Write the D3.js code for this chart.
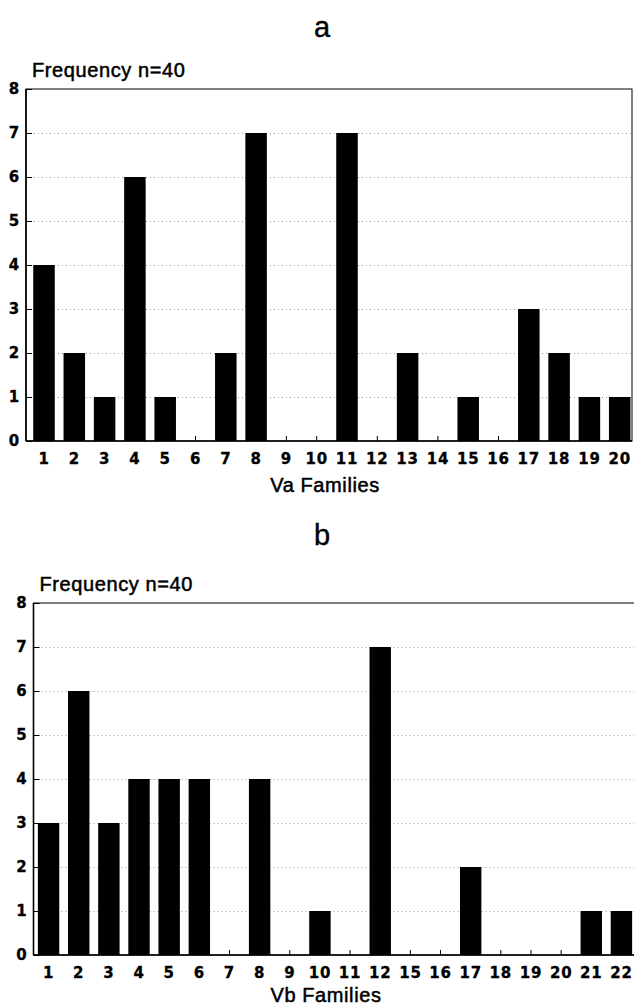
<!DOCTYPE html>
<html lang="en">
	<head>
		<meta charset="UTF-8">
		<title>Va / Vb Families</title>
		<style>
			body{margin:0;background:#fff;}
			svg{display:block;}
			.grid line{stroke:#9a9a9a;stroke-dasharray:1,3;}
			.grid path,.axis path{display:none;}
			.lbl{font-family:"Liberation Sans",Arial,sans-serif;font-size:20px;fill:#000;stroke:#000;stroke-width:0.5;letter-spacing:0.6px;}
			.ttl{font-family:"Liberation Sans",Arial,sans-serif;font-size:29px;fill:#000;stroke:#000;stroke-width:0.4;}
		</style>
	</head>
	<body>
	<script src="https://cdn.jsdelivr.net/npm/d3@7"></script>
	<script>
		// panel a
		var vaFamilies = ["1","2","3","4","5","6","7","8","9","10","11","12","13","14","15","16","17","18","19","20"];
		var vaFreq = [4,2,1,6,1,0,2,7,0,0,7,0,2,0,1,0,3,2,1,1];
		// panel b
		var vbFamilies = ["1","2","3","4","5","6","7","8","9","10","11","12","15","16","17","18","19","20","21","22"];
		var vbFreq = [3,6,3,4,4,4,0,4,0,1,0,7,0,0,2,0,0,0,1,1];
		var yTicks = [0,1,2,3,4,5,6,7,8];

		var svg = d3.select("body").append("svg")
			.attr("width",634)
			.attr("height",1008);

		function tickStyle(sel){
			sel.attr("font-family","'DejaVu Sans',sans-serif")
				.attr("font-size",15)
				.attr("font-weight","bold")
				.style("letter-spacing","0.8px");
			sel.selectAll("text").attr("stroke","#000").attr("stroke-width",0.3);
		}

		function panel(o){
			var x = d3.scaleBand().domain(o.cats).range([o.bandL,o.bandR]).paddingInner(0.29).paddingOuter(0.145);
			var y = d3.scaleLinear().domain([0,8]).range([o.bottom,o.top]);
			var g = svg.append("g");

			g.append("text").attr("class","ttl")
				.attr("x",322).attr("y",o.titleY)
				.attr("text-anchor","middle").text(o.title);
			g.append("text").attr("class","lbl")
				.attr("x",o.left+6).attr("y",o.top-12)
				.text("Frequency n=40");

			// dotted grid
			g.append("g").attr("class","grid")
				.attr("transform","translate("+o.left+",0)")
				.call(d3.axisLeft(y).tickValues(yTicks.slice(1,8)).tickSize(-(o.right-o.left)).tickFormat(""));

			// small ticks at each family
			g.selectAll(".ct").data(o.cats).enter().append("line")
				.attr("x1",function(d){return x(d)+x.bandwidth()/2;})
				.attr("x2",function(d){return x(d)+x.bandwidth()/2;})
				.attr("y1",o.bottom).attr("y2",o.bottom-5)
				.attr("stroke","#000");

			g.selectAll(".bar").data(o.vals).enter().append("rect")
				.attr("x",function(d,i){return x(o.cats[i]);})
				.attr("width",x.bandwidth())
				.attr("y",function(d){return y(d);})
				.attr("height",function(d){return o.bottom-y(d);})
				.attr("fill","#000");

			// frame
			g.append("rect")
				.attr("x",o.left).attr("y",o.top)
				.attr("width",o.right-o.left).attr("height",o.bottom-o.top)
				.attr("fill","none").attr("stroke","#000").attr("stroke-width",1);
			g.append("line")
				.attr("x1",o.left).attr("x2",o.left)
				.attr("y1",o.top).attr("y2",o.bottom)
				.attr("stroke","#000").attr("stroke-width",1.6);
			g.append("line")
				.attr("x1",o.left).attr("x2",o.right)
				.attr("y1",o.bottom).attr("y2",o.bottom)
				.attr("stroke","#000").attr("stroke-width",1.6);

			// y axis, ticks point inward
			var ya = g.append("g").attr("class","axis")
				.attr("transform","translate("+o.left+",0)")
				.call(d3.axisLeft(y).tickValues(yTicks).tickSize(-6).tickPadding(6).tickFormat(d3.format("d")));
			ya.call(tickStyle);
			ya.selectAll("line").attr("stroke","#000");

			// x axis labels
			g.append("g").attr("class","axis")
				.attr("transform","translate(0,"+o.bottom+")")
				.call(d3.axisBottom(x).tickSize(0).tickPadding(12))
				.call(tickStyle);

			g.append("text").attr("class","lbl")
				.attr("x",o.labelX).attr("y",o.labelY)
				.attr("text-anchor","middle").text(o.label);
		}

		panel({title:"a",titleY:37,cats:vaFamilies,vals:vaFreq,label:"Va Families",
			left:26,right:632,top:89,bottom:441,bandL:28.85,bandR:634.85,labelX:325,labelY:492});
		panel({title:"b",titleY:545,cats:vbFamilies,vals:vbFreq,label:"Vb Families",
			left:33.5,right:640,top:603,bottom:955,bandL:33.5,bandR:636.5,labelX:326,labelY:1002});
	</script>
	</body>
</html>
